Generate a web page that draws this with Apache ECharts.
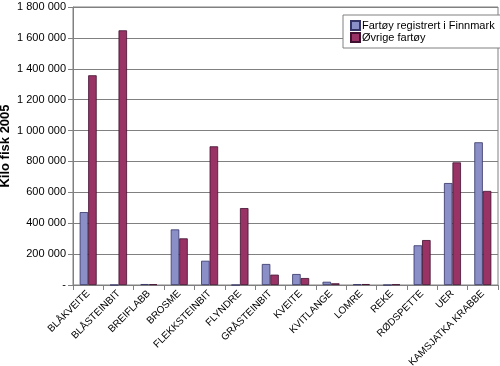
<!DOCTYPE html>
<html><head><meta charset="utf-8">
<script src="https://cdn.jsdelivr.net/npm/echarts@6/dist/echarts.min.js"></script>
<style>html,body{margin:0;padding:0;background:#fff}#c{width:500px;height:366px}</style>
</head><body><div id="c"></div>
<script>
const categories = ["BLÅKVEITE","BLÅSTEINBIT","BREIFLABB","BROSME","FLEKKSTEINBIT","FLYNDRE","GRÅSTEINBIT","KVEITE","KVITLANGE","LOMRE","REKE","RØDSPETTE","UER","KAMSJATKA KRABBE"];
const finnmark = [472000, 0, 6000, 360000, 157000, 0, 136000, 71000, 21000, 5000, 0, 257000, 660000, 924000];
const ovrige = [1358000, 1649000, 5000, 302000, 898000, 498000, 67000, 45000, 11000, 6000, 4000, 291000, 794000, 609000];
const seriesNames = ["Fartøy registrert i Finnmark", "Øvrige fartøy"];
const yAxisTitle = "Kilo fisk 2005";

const chart = echarts.init(document.getElementById('c'), null, {renderer:'canvas'});
const fnt = "'Liberation Sans', 'DejaVu Sans', sans-serif";
chart.setOption({
  animation:false,
  textStyle:{fontFamily:fnt},
  grid:{left:73, right:2, top:7, bottom:81, outerBoundsMode:'none', containLabel:false,
    show:true, borderColor:'#808080', borderWidth:1, backgroundColor:'transparent'},
  legend:{
    orient:'vertical', left:343, top:15, width:150,
    padding:[5,6,5,7], itemGap:1,
    backgroundColor:'#fff', borderColor:'#808080', borderWidth:1,
    itemWidth:9, itemHeight:9, icon:'rect',
    textStyle:{fontFamily:fnt, fontSize:11, color:'#000', padding:[0,0,0,-3]},
    data:seriesNames
  },
  xAxis:{
    type:'category', data:categories,
    axisLine:{lineStyle:{color:'#808080'}},
    axisTick:{show:true, alignWithLabel:false, length:5, lineStyle:{color:'#808080'}},
    axisLabel:{rotate:45, interval:0, fontSize:10, color:'#000', fontFamily:fnt, margin:7}
  },
  yAxis:{
    type:'value', min:0, max:1800000, interval:200000,
    name:yAxisTitle, nameLocation:'middle', nameGap:61, nameRotate:90, nameMoveOverlap:false,
    nameTextStyle:{fontFamily:fnt, fontSize:13, fontWeight:'bold', color:'#000'},
    axisLine:{show:true, lineStyle:{color:'#808080'}},
    axisTick:{show:true, length:5, lineStyle:{color:'#808080'}},
    splitLine:{show:true, lineStyle:{color:'#808080', width:1}},
    axisLabel:{fontSize:11, color:'#000', fontFamily:fnt, margin:7,
      formatter:v => v===0 ? '-' : String(v).replace(/\B(?=(\d{3})+(?!\d))/g,' ')}
  },
  series:[
    {name:seriesNames[0], type:'bar', data:finnmark, barWidth:8.5, barGap:'0%',
     itemStyle:{color:'#8B8FC8', borderColor:'#333366', borderWidth:0.8}},
    {name:seriesNames[1], type:'bar', data:ovrige, barWidth:8.5, barGap:'0%',
     itemStyle:{color:'#993366', borderColor:'#401030', borderWidth:0.8}}
  ]
});
</script></body></html>
